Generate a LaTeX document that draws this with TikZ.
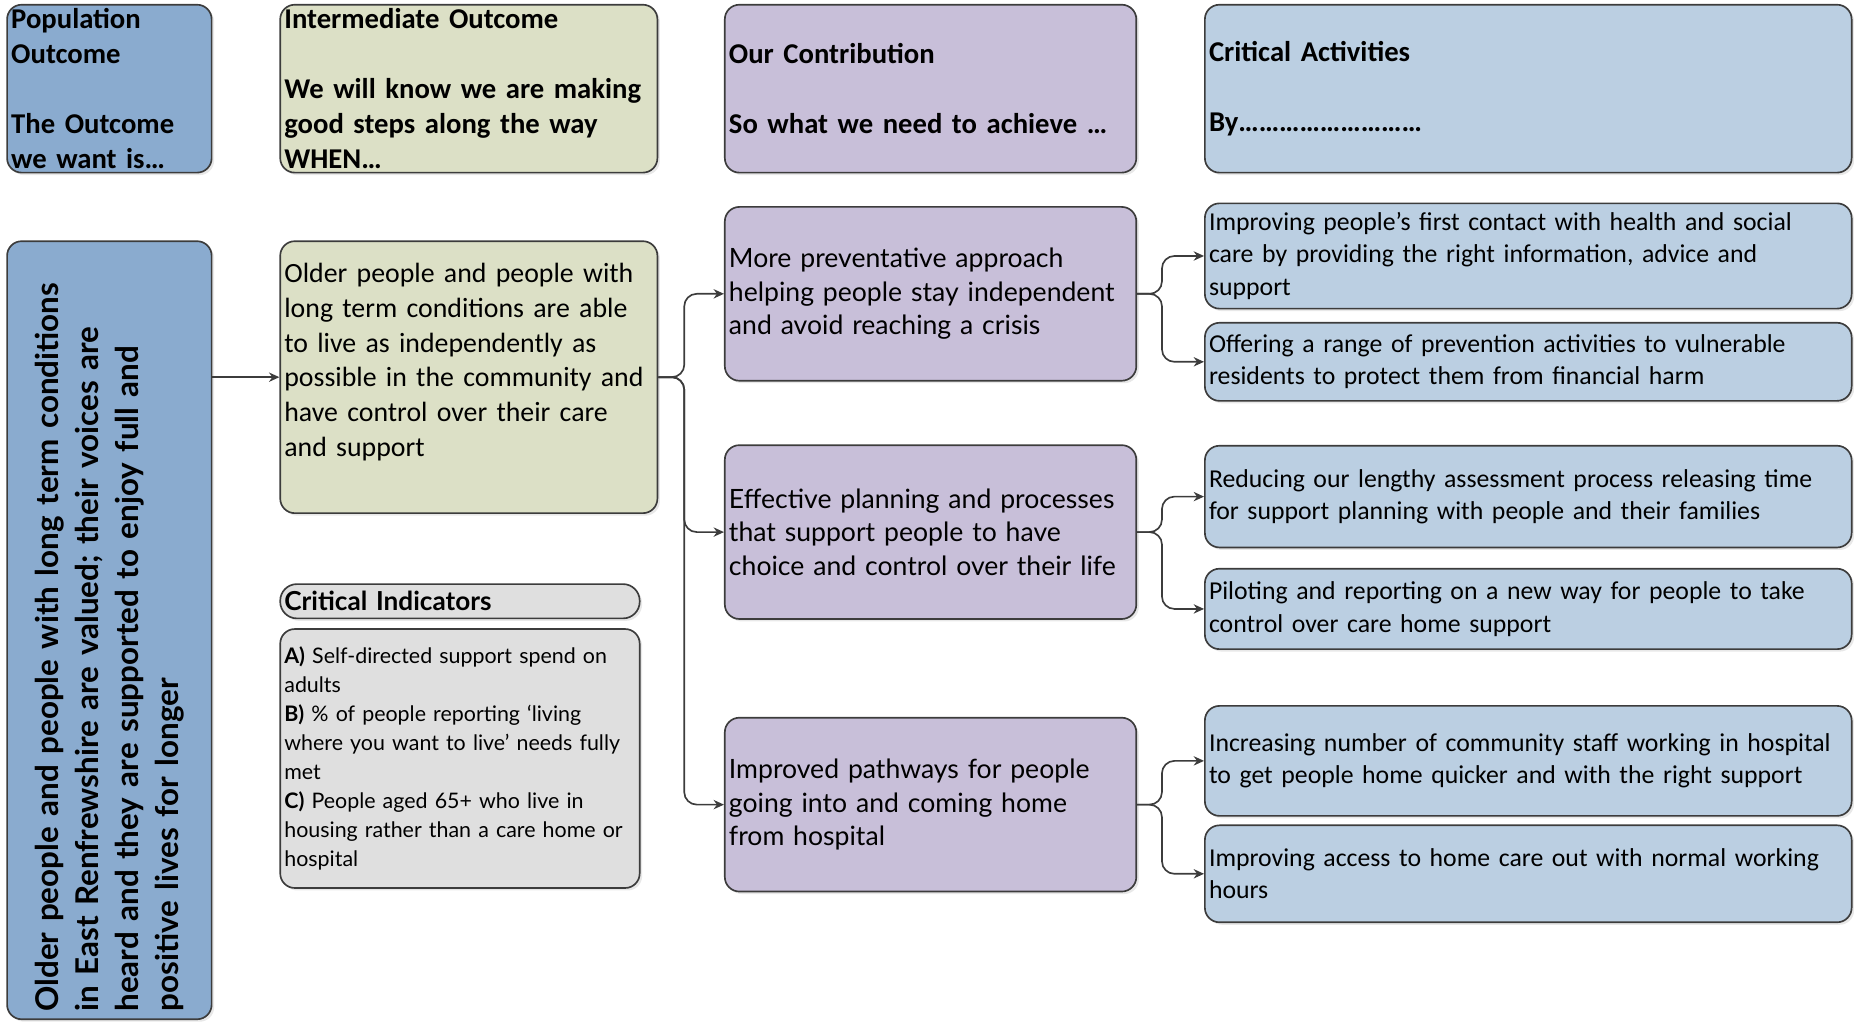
\documentclass[tikz,border=0pt]{standalone}
\usepackage{fontspec}
\setmainfont{Carlito}
\newfontfamily\roundfont{Lato}
\usetikzlibrary{arrows.meta,shadows,positioning}
\definecolor{popblue}{HTML}{8AABCF}
\definecolor{stepgreen}{HTML}{DCE0C6}
\definecolor{contribpurple}{HTML}{C8BFD9}
\definecolor{actblue}{HTML}{BBCFE2}
\definecolor{indgray}{HTML}{DFDFDF}
\definecolor{boxline}{HTML}{3C3C3C}
\begin{document}
\begin{tikzpicture}[thick,
                      box/.style={draw=boxline,rounded corners=7pt,inner xsep=0.07cm,
                      inner ysep=0pt,align=left,
                      execute at begin node={\hyphenpenalty=10000\exhyphenpenalty=10000},
                      drop shadow={shadow xshift=1.2pt,shadow yshift=-1.2pt,opacity=0.18}},
                      head font/.style={font=\fontsize{13.8}{16.8}\selectfont\bfseries},
                      pop node/.style={box,fill=popblue,text width=3.32cm,minimum height=2.84cm},
                      step node/.style={box,fill=stepgreen,text width=6.24cm},
                      contrib node/.style={box,fill=contribpurple,text width=6.82cm},
                      activity node/.style={box,fill=actblue,text width=10.8cm},
                      indicator node/.style={box,fill=indgray,text width=5.94cm},
                      link/.style={draw=boxline,rounded corners=6pt,-{Stealth[length=5pt,width=4.5pt]}}
                     ]
   \useasboundingbox (0,0) rectangle (31.36,17.28);

   % column headings
   \node[pop node,head font] (pophead) at (1.85,15.78)
     {Population\\Outcome\\\mbox{}\\The Outcome\\we want is…};
   \node[step node,head font,minimum height=2.84cm] (stephead) at (7.93,15.78)
     {Intermediate Outcome\\\mbox{}\\We will know we are making\\good steps along the way\\WHEN…};
   \node[contrib node,head font,minimum height=2.84cm] (contribhead) at (15.74,15.78)
     {Our Contribution\\\mbox{}\\So what we need to achieve …};
   \node[activity node,head font,minimum height=2.84cm] (acthead) at (25.85,15.78)
     {Critical Activities\\\mbox{}\\By………………………};

   % population outcome, turned on its side
   \node[pop node,rotate=90,text width=12.9cm,minimum width=13.16cm,minimum height=3.46cm,
         font=\roundfont\fontsize{15.1}{19.3}\selectfont\bfseries] (popmain) at (1.85,6.62)
     {Older people and people with long term conditions\\in East Renfrewshire are valued; their voices are\\heard and they are supported to enjoy full and\\positive lives for longer};

   \node[step node,minimum height=4.6cm,font=\fontsize{13.4}{16.7}\selectfont] (step) at (7.93,10.9)
     {Older people and people with\\long term conditions are able\\to live as independently as\\possible in the community and\\have control over their care\\and support\\\mbox{}};

   \node[indicator node,rounded corners=8pt,minimum height=0.58cm,
         font=\roundfont\fontsize{12.6}{14}\selectfont\bfseries] (indtitle) at (7.78,7.11) {Critical Indicators};
   \node[indicator node,minimum height=4.38cm,font=\roundfont\fontsize{10.3}{13.9}\selectfont] (ind) at (7.78,4.45)
     {\textbf{A)} Self-directed support spend on\\adults\\\textbf{B)} \% of people reporting ‘living\\where you want to live’ needs fully\\met\\\textbf{C)} People aged 65+ who live in\\housing rather than a care home or\\hospital};

   % our contribution
   \tikzset{contrib text/.style={minimum height=2.94cm,font=\roundfont\fontsize{12.8}{16.2}\selectfont}}
   \node[contrib node,contrib text] (pur1) at (15.74,12.31)
     {More preventative approach\\helping people stay independent\\and avoid reaching a crisis};
   \node[contrib node,contrib text] (pur2) at (15.74,8.28)
     {Effective planning and processes\\that support people to have\\choice and control over their life};
   \node[contrib node,contrib text] (pur3) at (15.74,3.67)
     {Improved pathways for people\\going into and coming home\\from hospital};

   % critical activities
   \tikzset{act text/.style={font=\fontsize{12.4}{15.6}\selectfont}}
   \node[activity node,act text,minimum height=1.78cm] (act1) at (25.85,12.95)
     {Improving people’s first contact with health and social\\care by providing the right information, advice and\\support};
   \node[activity node,act text,minimum height=1.32cm] (act2) at (25.85,11.16)
     {Offering a range of prevention activities to vulnerable\\residents to protect them from financial harm};
   \node[activity node,act text,minimum height=1.72cm] (act3) at (25.85,8.88)
     {Reducing our lengthy assessment process releasing time\\for support planning with people and their families};
   \node[activity node,act text,minimum height=1.36cm] (act4) at (25.85,6.98)
     {Piloting and reporting on a new way for people to take\\control over care home support};
   \node[activity node,act text,minimum height=1.86cm] (act5) at (25.85,4.41)
     {Increasing number of community staff working in hospital\\to get people home quicker and with the right support};
   \node[activity node,act text,minimum height=1.64cm] (act6) at (25.85,2.5)
     {Improving access to home care out with normal working\\hours};

   % connectors
   \coordinate[right=0.44cm of step.east] (stepsplit);
   \coordinate[right=0.42cm of pur1.east] (split1);
   \coordinate[right=0.42cm of pur2.east] (split2);
   \coordinate[right=0.42cm of pur3.east] (split3);

   \draw[link] (step.west -| popmain.south) -- (step.west);
   \draw[link] (step.east) -- (stepsplit) |- (pur1.west);
   \draw[link] (step.east) -- (stepsplit) |- (pur2.west);
   \draw[link] (step.east) -- (stepsplit) |- (pur3.west);
   \draw[link] (pur1.east) -- (split1) |- (act1.west);
   \draw[link] (pur1.east) -- (split1) |- (act2.west);
   \draw[link] (pur2.east) -- (split2) |- (act3.west);
   \draw[link] (pur2.east) -- (split2) |- (act4.west);
   \draw[link] (pur3.east) -- (split3) |- (act5.west);
   \draw[link] (pur3.east) -- (split3) |- (act6.west);
\end{tikzpicture}
\end{document}
